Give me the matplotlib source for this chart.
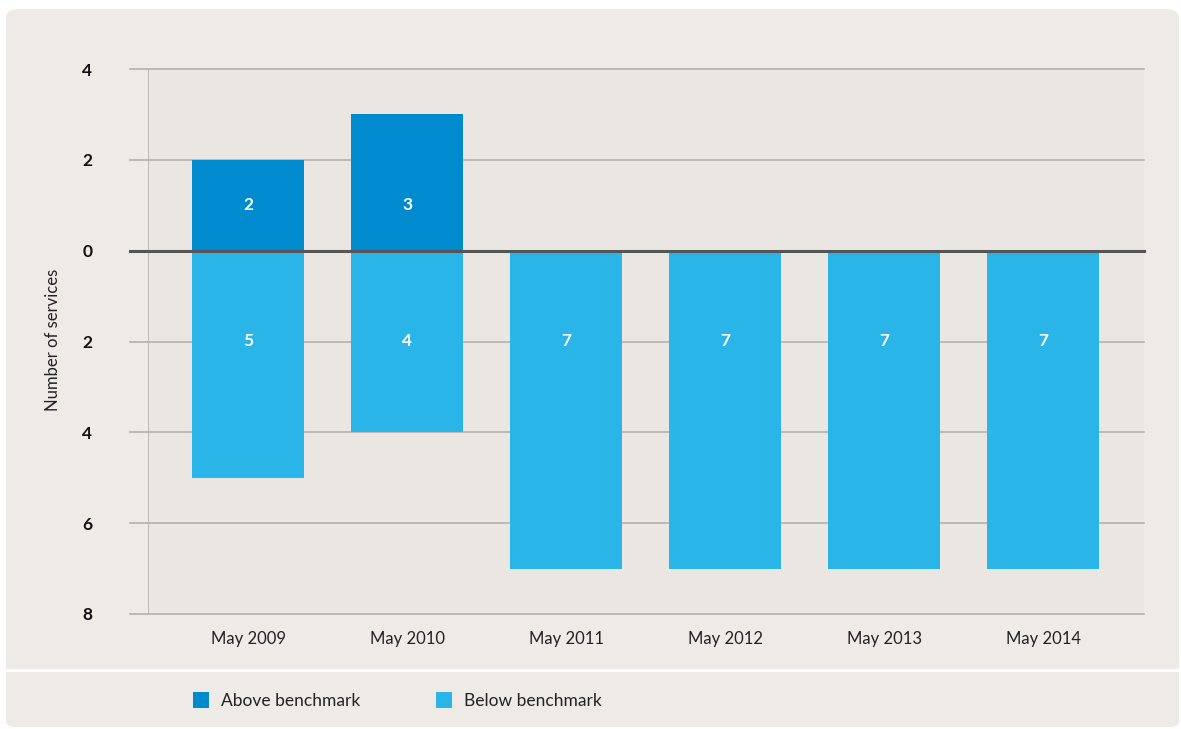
import numpy as np
import matplotlib.pyplot as plt
from matplotlib.patches import FancyBboxPatch, Rectangle

plt.rcParams["font.family"] = ["Lato", "DejaVu Sans"]

periods = ["May 2009", "May 2010", "May 2011", "May 2012", "May 2013", "May 2014"]
above = [2, 3, 0, 0, 0, 0]
below = [5, 4, 7, 7, 7, 7]
y_ticks = [4, 2, 0, -2, -4, -6, -8]
y_tick_labels = ["4", "2", "0", "2", "4", "6", "8"]

dark_blue = "#008bcf"
light_blue = "#29b5e8"
panel_col = "#eeebe7"
plot_col = "#eae7e3"
grid_col = "#b3b1ae"

W, H = 1181, 729
fig = plt.figure(figsize=(W / 100, H / 100), dpi=100)
fig.patch.set_facecolor("white")

# background panels (chart + legend strip), rounded only on the outer corners
fig.patches.append(FancyBboxPatch((6 / W, (H - 669) / H), 1173 / W, 660 / H,
                                  boxstyle="round,pad=0,rounding_size=0.012",
                                  transform=fig.transFigure, facecolor=panel_col,
                                  edgecolor="none", zorder=-2))
fig.patches.append(Rectangle((6 / W, (H - 669) / H), 1173 / W, 40 / H,
                             transform=fig.transFigure, facecolor=panel_col,
                             edgecolor="none", zorder=-2))
fig.patches.append(FancyBboxPatch((6 / W, (H - 727) / H), 1173 / W, 54 / H,
                                  boxstyle="round,pad=0,rounding_size=0.008",
                                  transform=fig.transFigure, facecolor=panel_col,
                                  edgecolor="none", zorder=-2))
fig.patches.append(Rectangle((6 / W, (H - 700) / H), 1173 / W, 28 / H,
                             transform=fig.transFigure, facecolor=panel_col,
                             edgecolor="none", zorder=-2))

ax = fig.add_axes([148 / W, (H - 614) / H, (1144 - 148) / W, (614 - 69) / H])
ax.set_zorder(2)
ax.set_facecolor(plot_col)

x = np.arange(len(periods))
ax.bar(x, above, width=0.71, color=dark_blue, zorder=3)
ax.bar(x, [-b for b in below], width=0.71, color=light_blue, zorder=3)

for i in range(len(periods)):
    if above[i]:
        ax.text(x[i], 1, str(above[i]), ha="center", va="center", color="white",
                fontsize=12.5, fontweight="bold", zorder=4)
    ax.text(x[i], -2, str(below[i]), ha="center", va="center", color="white",
            fontsize=12.5, fontweight="bold", zorder=4)

ax.set_xlim(-0.629, 5.635)
ax.set_ylim(-8, 4)

# gridlines run a little past the left edge of the plot
for yv in y_ticks:
    if yv == 0:
        continue
    ax.plot([-0.74, 5.635], [yv, yv], color=grid_col, lw=1.2, zorder=1, clip_on=False)
ax.plot([-0.74, 5.635], [0, 0], color="#555555", lw=2.2, zorder=5, clip_on=False)
ax.axvline(-0.629, color=grid_col, lw=1.2, zorder=1)

for s in ax.spines.values():
    s.set_visible(False)

ax.set_yticks(y_ticks)
ax.set_yticklabels(y_tick_labels, fontsize=12.5, fontweight="bold", color="#111111")
ax.set_xticks(x)
ax.set_xticklabels(periods, fontsize=12, color="#222222")
ax.tick_params(axis="y", length=0, pad=40)
ax.tick_params(axis="x", length=0, pad=12)

fig.text(53 / W, 1 - 340 / H, "Number of services", rotation=90, ha="center",
         va="center", fontsize=12, color="#222222")

# legend strip
for xs, col, label in [(193, dark_blue, "Above benchmark"), (436, light_blue, "Below benchmark")]:
    fig.patches.append(Rectangle((xs / W, (H - 708) / H), 16 / W, 16 / H,
                                 transform=fig.transFigure, facecolor=col,
                                 edgecolor="none", zorder=2))
    fig.text((xs + 28) / W, 1 - 701 / H, label, ha="left", va="center",
             fontsize=12.5, color="#222222")

fig.savefig("out.png", dpi=100, facecolor=fig.get_facecolor())
